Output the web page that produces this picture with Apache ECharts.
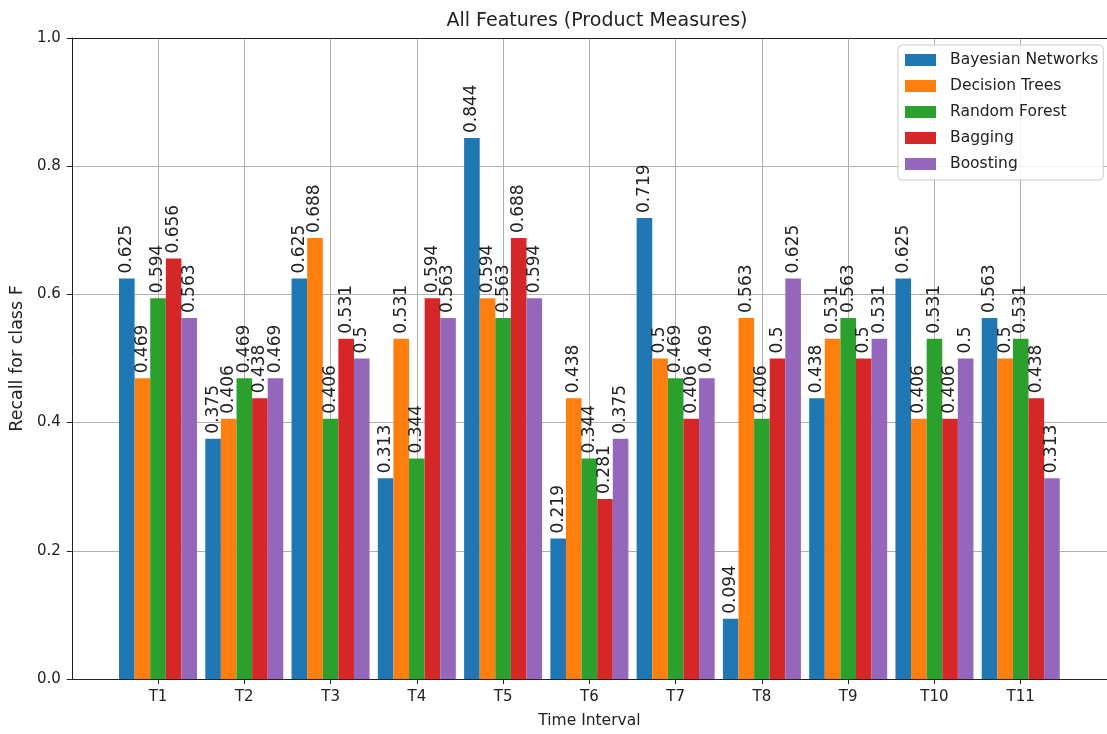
<!DOCTYPE html>
<html>
<head>
<meta charset="utf-8">
<script src="https://cdn.jsdelivr.net/npm/echarts@6/dist/echarts.min.js"></script>
<style>html,body{margin:0;padding:0;background:#fff;}#c{width:1107px;height:734px;}</style>
</head>
<body>
<div id="c"></div>
<script>
const categories = ['T1','T2','T3','T4','T5','T6','T7','T8','T9','T10','T11'];
const seriesNames = ['Bayesian Networks','Decision Trees','Random Forest','Bagging','Boosting'];
const bayesian = [0.625,0.375,0.625,0.313,0.844,0.219,0.719,0.094,0.438,0.625,0.563];
const decisionTrees = [0.469,0.406,0.688,0.531,0.594,0.438,0.5,0.563,0.531,0.406,0.5];
const randomForest = [0.594,0.469,0.406,0.344,0.563,0.344,0.469,0.406,0.563,0.531,0.531];
const bagging = [0.656,0.438,0.531,0.594,0.688,0.281,0.406,0.5,0.5,0.406,0.438];
const boosting = [0.563,0.469,0.5,0.563,0.594,0.375,0.469,0.625,0.531,0.5,0.313];
const yTicks = [0.0,0.2,0.4,0.6,0.8,1.0];
const colors = ['#1f77b4','#ff7f0e','#2ca02c','#d62728','#9467bd'];

const allData = [bayesian, decisionTrees, randomForest, bagging, boosting];
const axisCats = [''].concat(categories).concat(['']);
const chart = echarts.init(document.getElementById('c'), null, {renderer:'canvas'});
const FONT = 'DejaVu Sans';
const inner = (i) => i > 0 && i < axisCats.length - 1;

chart.setOption({
  animation: false,
  textStyle: {fontFamily: FONT},
  title: {
    text: 'All Features (Product Measures)',
    left: 592, top: 7, textAlign: 'center',
    textStyle: {fontFamily: FONT, fontSize: 19, fontWeight: 'normal', color: '#222'}
  },
  legend: {
    orient: 'vertical', left: 898, top: 45,
    data: seriesNames,
    itemWidth: 31, itemHeight: 12, itemGap: 10,
    icon: 'rect',
    padding: [7, 5, 8, 7],
    backgroundColor: 'rgba(255,255,255,0.85)',
    borderColor: '#cccccc', borderWidth: 1, borderRadius: 4,
    textStyle: {fontFamily: FONT, fontSize: 15.5, color: '#222', padding: [0, 0, 0, 9]}
  },
  grid: {left: 69, top: 38, right: 0, bottom: 52, show: false},
  xAxis: [{
    type: 'category', data: axisCats, boundaryGap: false,
    name: 'Time Interval', nameLocation: 'middle', nameGap: 34,
    nameTextStyle: {fontFamily: FONT, fontSize: 15.5, color: '#222'},
    axisLine: {lineStyle: {color: '#222'}},
    axisTick: {show: true, length: 5, interval: inner, lineStyle: {color: '#222'}},
    axisLabel: {fontFamily: FONT, fontSize: 15, color: '#222', margin: 11, interval: inner},
    splitLine: {show: true, interval: inner, lineStyle: {color: '#b0b0b0', width: 1}}
  }, {
    type: 'category', data: axisCats, boundaryGap: false, position: 'top',
    axisLine: {show: true, lineStyle: {color: '#222'}},
    axisTick: {show: false}, axisLabel: {show: false}, splitLine: {show: false}
  }],
  yAxis: {
    type: 'value', min: 0, max: 1, interval: 0.2,
    name: 'Recall for class F', nameLocation: 'middle', nameGap: 42,
    nameTextStyle: {fontFamily: FONT, fontSize: 17.5, color: '#222'},
    axisLine: {show: true, lineStyle: {color: '#222'}},
    axisTick: {show: true, length: 5, lineStyle: {color: '#222'}},
    axisLabel: {fontFamily: FONT, fontSize: 15, color: '#222', margin: 11,
      formatter: (v) => { const t = yTicks.find(x => Math.abs(x - v) < 1e-9); return (t !== undefined ? t : v).toFixed(1); }},
    splitLine: {show: true, lineStyle: {color: '#b0b0b0', width: 1}}
  },
  series: seriesNames.map((name, k) => ({
    name: name, type: 'bar', xAxisIndex: 0,
    data: [null].concat(allData[k]).concat([null]),
    barWidth: 15.6, barGap: '0%',
    itemStyle: {color: colors[k]},
    label: {
      show: true, position: 'top', rotate: 90, align: 'left', verticalAlign: 'middle', distance: 5,
      fontFamily: FONT, fontSize: 17, color: '#222',
      formatter: (p) => String(p.value)
    }
  }))
});
</script>
</body>
</html>
